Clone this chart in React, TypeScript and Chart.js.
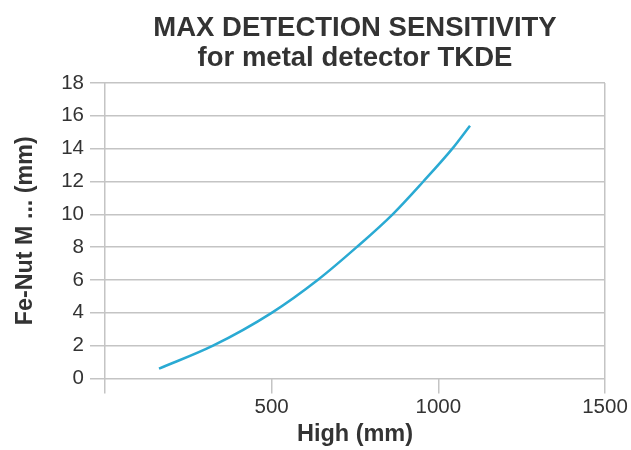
import React, { useEffect, useRef } from "react";
import { Chart, registerables } from "chart.js";

Chart.register(...registerables);

const titleLines = ["MAX DETECTION SENSITIVITY", "for metal detector TKDE"];
const xAxisTitle = "High (mm)";
const yAxisTitle = "Fe-Nut M ... (mm)";

const heightMm = [162, 324, 500, 638, 755, 863, 955, 1042, 1095];
const nutMm = [0.6, 2, 4, 6, 8, 10, 12, 14, 15.4];

const xMin = 0;
const xMax = 1500;
const xStep = 500;
const yMin = 0;
const yMax = 18;
const yStep = 2;

const FONT = "'Liberation Sans', Arial, Helvetica, sans-serif";
const GRID = "#c4c4c4";
const TEXT = "#333333";
const LINE = "#2aaad3";

export default function App() {
  const ref = useRef<HTMLCanvasElement | null>(null);

  useEffect(() => {
    document.body.style.margin = "0";
    const canvas = ref.current;
    if (!canvas) return;
    const points = heightMm.map((x, i) => ({ x, y: nutMm[i] }));
    const chart = new Chart(canvas, {
      type: "line",
      data: {
        datasets: [
          {
            data: points,
            borderColor: LINE,
            borderWidth: 2.5,
            pointRadius: 0,
            cubicInterpolationMode: "monotone",
            fill: false,
          },
        ],
      },
      options: {
        animation: false,
        responsive: false,
        devicePixelRatio: 1,
        layout: { padding: { left: 0, right: 26, top: 0, bottom: 0 } },
        plugins: {
          legend: { display: false },
          tooltip: { enabled: false },
          title: {
            display: true,
            fullSize: false,
            text: titleLines,
            color: TEXT,
            font: { family: FONT, size: 27.5, weight: "bold", lineHeight: 1.09 },
            padding: { top: 13, bottom: 10 },
          },
        },
        scales: {
          x: {
            type: "linear",
            min: xMin,
            max: xMax,
            border: { display: false },
            afterFit: (scale: any) => {
              scale.height = 71.5;
            },
            grid: {
              color: (ctx: any) =>
                ctx.tick && (ctx.tick.value === xMin || ctx.tick.value === xMax) ? GRID : "rgba(0,0,0,0)",
              tickColor: GRID,
              lineWidth: 1.5,
              tickLength: 15,
            },
            ticks: {
              stepSize: xStep,
              color: TEXT,
              padding: 2,
              maxRotation: 0,
              font: { family: FONT, size: 20.5 },
              callback: (v: any) => (v === 0 ? "" : String(v)),
            },
            title: {
              display: true,
              text: xAxisTitle,
              color: TEXT,
              font: { family: FONT, size: 23.5, weight: "bold" },
              padding: { top: 0, bottom: 1.8 },
            },
          },
          y: {
            type: "linear",
            min: yMin,
            max: yMax,
            border: { display: false },
            afterFit: (scale: any) => {
              scale.width = 105;
            },
            grid: {
              color: GRID,
              lineWidth: 1.5,
              tickLength: 15,
            },
            ticks: {
              stepSize: yStep,
              color: TEXT,
              padding: 6,
              font: { family: FONT, size: 20.5 },
            },
            title: {
              display: true,
              text: yAxisTitle,
              color: TEXT,
              font: { family: FONT, size: 23.3, weight: "bold" },
              padding: { top: 11.8, bottom: 0 },
            },
          },
        },
      },
    });
    return () => chart.destroy();
  }, []);

  return <canvas ref={ref} width={631} height={450} style={{ display: "block" }} />;
}
